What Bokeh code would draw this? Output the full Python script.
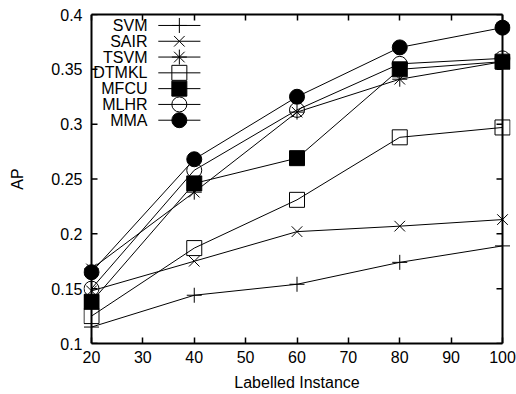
from bokeh.plotting import figure
from bokeh.models import LinearAxis, Range1d, FixedTicker, Span
from bokeh.core.properties import value
from bokeh.embed import file_html
from bokeh.resources import INLINE

# Average precision versus number of labelled instances
instances = [20, 40, 60, 80, 100]
svm = [0.115, 0.144, 0.154, 0.174, 0.189]
sair = [0.148, 0.175, 0.202, 0.207, 0.213]
tsvm = [0.168, 0.238, 0.311, 0.341, 0.357]
dtmkl = [0.125, 0.187, 0.231, 0.288, 0.297]
mfcu = [0.138, 0.246, 0.269, 0.350, 0.357]
mlhr = [0.150, 0.258, 0.313, 0.355, 0.360]
mma = [0.165, 0.268, 0.325, 0.370, 0.388]

x_ticks = [20, 30, 40, 50, 60, 70, 80, 90, 100]
y_ticks = [0.1, 0.15, 0.2, 0.25, 0.3, 0.35, 0.4]
y_tick_labels = ["0.1", "0.15", "0.2", "0.25", "0.3", "0.35", "0.4"]

FONT = "Liberation Sans"
FONT_SIZE = "16px"

X_MIN, X_MAX = 20, 100
Y_MIN, Y_MAX = 0.1, 0.4

# The plotting frame is widened a little on both sides so that markers on the
# first and last columns are not cut off; the visible box is drawn at 20..100.
W, H = 516, 394
BORDER_L, BORDER_R = 83, 6
PAD_PX = 8
frame_w = W - BORDER_L - BORDER_R
px_per_unit = (frame_w - 2 * PAD_PX) / (X_MAX - X_MIN)
pad_units = PAD_PX / px_per_unit

p = figure(width=W, height=H, output_backend="svg", toolbar_location=None,
           x_range=Range1d(X_MIN - pad_units, X_MAX + pad_units),
           y_range=Range1d(Y_MIN, Y_MAX),
           min_border_left=BORDER_L, min_border_right=BORDER_R,
           min_border_top=14, min_border_bottom=51,
           x_axis_label="Labelled Instance", y_axis_label="AP")
p.grid.visible = False
p.outline_line_color = None
p.background_fill_color = "white"


def style_axis(ax, ticks, show_labels):
    ax.ticker = FixedTicker(ticks=ticks)
    ax.axis_line_color = "black"
    ax.axis_line_width = 2
    ax.major_tick_in = 6
    ax.major_tick_out = 0
    ax.major_tick_line_width = 1.5
    ax.minor_tick_line_color = None
    ax.major_label_text_font = FONT
    ax.major_label_text_font_size = FONT_SIZE
    ax.major_label_text_color = "black" if show_labels else None
    ax.axis_label_text_font = FONT
    ax.axis_label_text_font_size = FONT_SIZE
    ax.axis_label_text_font_style = "normal"
    ax.axis_label_text_color = "black"


xb = p.xaxis[0]
style_axis(xb, x_ticks, True)
xb.bounds = (X_MIN, X_MAX)
xb.major_label_standoff = 7
xb.axis_label_standoff = 8

top = LinearAxis()
style_axis(top, x_ticks, False)
top.bounds = (X_MIN, X_MAX)
p.add_layout(top, "above")

yl = p.yaxis[0]
style_axis(yl, y_ticks, True)
yl.major_label_overrides = {t: s for t, s in zip(y_ticks, y_tick_labels)}
yl.axis_line_color = None
yl.major_tick_line_color = None
yl.major_tick_in = 0
yl.major_label_standoff = 1
yl.axis_label_standoff = 22

# Vertical sides of the box with inward ticks
for loc in (X_MIN, X_MAX):
    p.add_layout(Span(location=loc, dimension="height", line_color="black",
                      line_width=2))
tick_units = 6 / px_per_unit
p.segment(x0=[X_MIN] * len(y_ticks), y0=y_ticks,
          x1=[X_MIN + tick_units] * len(y_ticks), y1=y_ticks,
          line_color="black", line_width=1.5)
p.segment(x0=[X_MAX - tick_units] * len(y_ticks), y0=y_ticks,
          x1=[X_MAX] * len(y_ticks), y1=y_ticks,
          line_color="black", line_width=1.5)

series = [
    ("SVM", svm, "cross", None),
    ("SAIR", sair, "x", None),
    ("TSVM", tsvm, "asterisk", None),
    ("DTMKL", dtmkl, "square", None),
    ("MFCU", mfcu, "square", "black"),
    ("MLHR", mlhr, "circle", None),
    ("MMA", mma, "circle", "black"),
]

for name, vals, marker, fill in series:
    p.line(instances, vals, line_color="black", line_width=1)
    p.scatter(instances, vals, marker=marker, size=15, line_color="black",
              line_width=1, fill_color=fill if fill else "white",
              fill_alpha=1.0 if fill else 0.0)

# Key in the upper left corner: label, then a short line with the marker
key_y0 = 0.390
key_step = 0.0144
key_text_x = 30.9
key_line = (33.0, 41.2)
key_marker_x = 37.1
for i, (name, vals, marker, fill) in enumerate(series):
    ky = key_y0 - i * key_step
    p.segment(x0=[key_line[0]], y0=[ky], x1=[key_line[1]], y1=[ky],
              line_color="black", line_width=1)
    p.scatter([key_marker_x], [ky], marker=marker, size=15, line_color="black",
              line_width=1, fill_color=fill if fill else "white",
              fill_alpha=1.0 if fill else 0.0)
    p.text([key_text_x], [ky], text=[name], text_font=value(FONT),
           text_font_size=FONT_SIZE, text_align="right", text_baseline="middle",
           text_color="black")

open("out.html", "w").write(file_html(p, INLINE))
